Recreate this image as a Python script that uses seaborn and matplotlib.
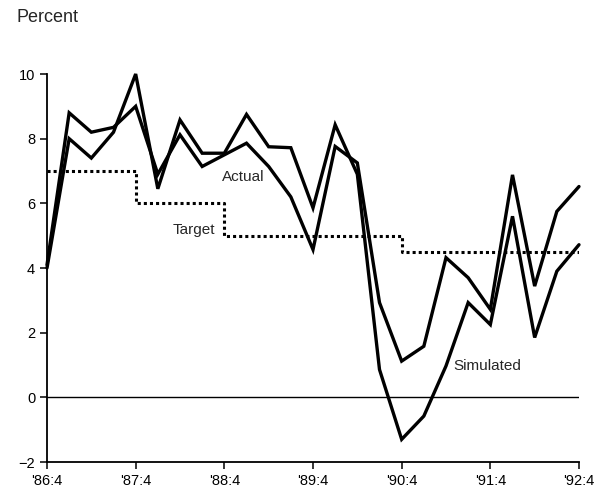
import numpy as np
import pandas as pd
import matplotlib
matplotlib.use('Agg')
import matplotlib.pyplot as plt
import seaborn as sns

# quarterly values, '86:4 .. '92:4
quarters = ["'86:4", "'87:1", "'87:2", "'87:3", "'87:4", "'88:1", "'88:2", "'88:3", "'88:4",
            "'89:1", "'89:2", "'89:3", "'89:4", "'90:1", "'90:2", "'90:3", "'90:4",
            "'91:1", "'91:2", "'91:3", "'91:4", "'92:1", "'92:2", "'92:3", "'92:4"]
actual = [4.1, 8.8, 8.2, 8.35, 9.0, 6.9, 8.12, 7.14, 7.5, 7.86, 7.14, 6.2, 4.57,
          7.76, 7.25, 2.93, 1.12, 1.58, 4.32, 3.7, 2.72, 6.88, 3.44, 5.75, 6.52]
simulated = [4.0, 8.0, 7.4, 8.2, 10.0, 6.45, 8.58, 7.55, 7.55, 8.75, 7.75, 7.72, 5.86,
             8.43, 6.9, 0.86, -1.3, -0.58, 0.97, 2.93, 2.25, 5.6, 1.85, 3.9, 4.72]
target = [7, 7, 7, 7, 6, 6, 6, 6, 5, 5, 5, 5, 5, 5, 5, 5,
          4.5, 4.5, 4.5, 4.5, 4.5, 4.5, 4.5, 4.5, 4.5]

tick_pos = [0, 4, 8, 12, 16, 20, 24]
y_ticks = [-2, 0, 2, 4, 6, 8, 10]

sns.set_style('ticks')
plt.rcParams['font.family'] = ['Liberation Sans', 'DejaVu Sans']

df = pd.DataFrame({'q': np.arange(len(quarters)), 'actual': actual,
                   'simulated': simulated, 'target': target})

fig = plt.figure(figsize=(6.04, 4.91), dpi=100)
ax = fig.add_axes([47 / 604, 1 - 462 / 491, (579 - 47) / 604, (462 - 74) / 491])

ax.axhline(0, color='black', lw=1.0, zorder=1)
sns.lineplot(data=df, x='q', y='target', ax=ax, color='black', lw=2.2,
             drawstyle='steps-post', linestyle=(0, (1, 1)), dash_capstyle='butt')
sns.lineplot(data=df, x='q', y='actual', ax=ax, color='black', lw=2.4,
             solid_joinstyle='miter', clip_on=False)
sns.lineplot(data=df, x='q', y='simulated', ax=ax, color='black', lw=2.4,
             solid_joinstyle='miter', clip_on=False)

ax.set_xlim(0, 24)
ax.set_ylim(-2, 10)
ax.set_xticks(tick_pos)
ax.set_xticklabels([quarters[i] for i in tick_pos])
ax.set_yticks(y_ticks)
ax.set_xlabel('')
ax.set_ylabel('')
ax.tick_params(direction='out', length=5, width=1.1, labelsize=10.5, colors='black')
for s in ['top', 'right']:
    ax.spines[s].set_visible(False)
for s in ['left', 'bottom']:
    ax.spines[s].set_linewidth(1.3)
    ax.spines[s].set_color('black')

ax.text(8.84, 6.8, 'Actual', ha='center', va='center', fontsize=11)
ax.text(6.63, 5.17, 'Target', ha='center', va='center', fontsize=11)
ax.text(19.85, 0.97, 'Simulated', ha='center', va='center', fontsize=11)
fig.text(17 / 604, 1 - 17 / 491, 'Percent', ha='left', va='center', fontsize=13)

fig.savefig('out.png', dpi=100)
